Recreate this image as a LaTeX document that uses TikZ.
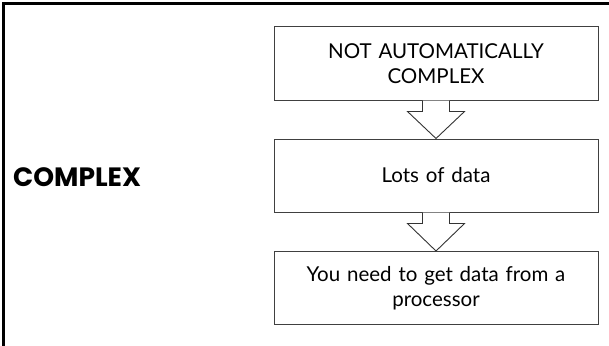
\documentclass[tikz,border=0pt]{standalone}
\usepackage{fontspec}
\setmainfont{Lato}
\newfontfamily\headfont{Poppins}
\usetikzlibrary{calc}
\begin{document}
\begin{tikzpicture}[x=1pt,y=-1pt,
  stepbox/.style={draw=black!75, line width=1pt, minimum width=324pt, minimum height=73pt,
    inner sep=0pt, align=center, text width=310pt, font=\fontsize{20.5}{25}\selectfont},
  flowarrow/.style={draw=black!80, line width=0.9pt, fill=white, line join=miter}]
\useasboundingbox (0,0) rectangle (609,345);
\clip (0,0) rectangle (609,345);
\fill[white] (0,0) rectangle (609,345);
\draw[line width=3pt] (3.5,360) |- (620,3.5);
\node[stepbox] (b1) at (436,63.5) {NOT AUTOMATICALLY\\COMPLEX};
\node[stepbox] (b2) at (436,175.5) {Lots of data};
\node[stepbox] (b3) at (436,288) {You need to get data from a\\processor};
\node[anchor=west, inner sep=0pt, font=\headfont\bfseries\fontsize{26.5}{30}\selectfont] (h) at (13,177) {COMPLEX};
\foreach \a/\b in {b1/b2, b2/b3} {
  \draw[flowarrow] ($(\a.south)+(-13.5,0)$) -- ++(0,11) -- ++(-15,0) -- (\b.north) -- ($(\a.south)+(28.5,11)$) -- ++(-15,0) -- ($(\a.south)+(13.5,0)$);
}
\end{tikzpicture}
\end{document}
